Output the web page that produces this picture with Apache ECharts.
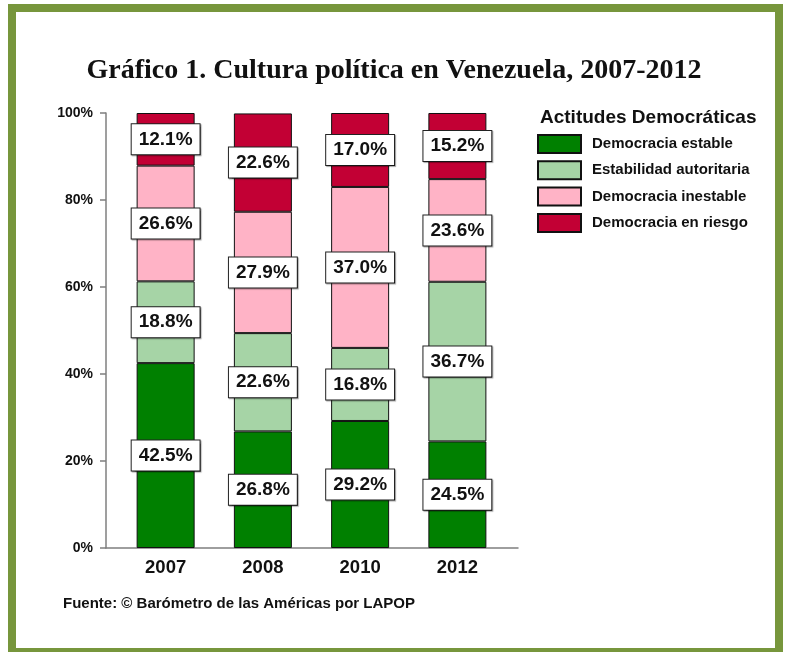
<!DOCTYPE html>
<html>
<head>
<meta charset="utf-8">
<script src="https://cdn.jsdelivr.net/npm/echarts@6/dist/echarts.min.js"></script>
<style>html,body{margin:0;padding:0;background:#fff;}#c{width:787px;height:652px;}</style>
</head>
<body>
<div id="c"></div>
<script>
const years = ['2007', '2008', '2010', '2012'];
const seriesNames = ['Democracia estable', 'Estabilidad autoritaria', 'Democracia inestable', 'Democracia en riesgo'];
const estable = [42.5, 26.8, 29.2, 24.5];
const autoritaria = [18.8, 22.6, 16.8, 36.7];
const inestable = [26.6, 27.9, 37.0, 23.6];
const riesgo = [12.1, 22.6, 17.0, 15.2];
const yTicks = [0, 20, 40, 60, 80, 100];
const colors = ['#008000', '#a6d4a6', '#ffb3c6', '#c20034'];

const values = [estable, autoritaria, inestable, riesgo];
const chart = echarts.init(document.getElementById('c'), null, {renderer: 'canvas'});
const sansBold = {fontFamily: '"Liberation Sans", Arial, sans-serif', fontWeight: 'bold', color: '#111'};

const series = values.map((vals, i) => ({
  name: seriesNames[i],
  type: 'bar',
  stack: 'total',
  xAxisIndex: 1,
  yAxisIndex: 1,
  barWidth: 58,
  data: vals,
  itemStyle: {color: colors[i], borderColor: '#111', borderWidth: 1},
  label: {
    show: true,
    position: 'inside',
    formatter: p => p.value.toFixed(1) + '%',
    fontFamily: '"Liberation Sans", Arial, sans-serif',
    fontWeight: 'bold',
    fontSize: 19,
    color: '#111',
    backgroundColor: '#fff',
    borderColor: '#222',
    borderWidth: 1,
    padding: [6, 7, 5, 7],
    shadowColor: 'rgba(0,0,0,0.35)',
    shadowOffsetX: 1,
    shadowOffsetY: 1,
    shadowBlur: 1
  },
  emphasis: {disabled: true}
}));

chart.setOption({
  animation: false,
  backgroundColor: '#fff',
  grid: [
    {left: 106, top: 113, width: 412, height: 435},
    {left: 117, top: 113, width: 389, height: 435}
  ],
  xAxis: [
    {gridIndex: 0, type: 'value', min: 0, max: 1, axisLine: {show: true, onZero: false, lineStyle: {color: '#7f7f7f', width: 1.5}}, axisTick: {show: false}, axisLabel: {show: false}, splitLine: {show: false}},
    {gridIndex: 1, type: 'category', data: years, axisLine: {show: false}, axisTick: {show: false},
     axisLabel: Object.assign({fontSize: 18.5, margin: 10}, sansBold)}
  ],
  yAxis: [
    {gridIndex: 0, type: 'value', min: yTicks[0], max: yTicks[yTicks.length - 1], interval: 20,
     axisLine: {show: true, lineStyle: {color: '#7f7f7f', width: 1.5}},
     axisTick: {show: true, length: 6, lineStyle: {color: '#7f7f7f', width: 1.5}},
     axisLabel: Object.assign({fontSize: 14, margin: 13, formatter: '{value}%'}, sansBold),
     splitLine: {show: false}},
    {gridIndex: 1, type: 'value', min: 0, max: 100, show: false}
  ],
  legend: {
    orient: 'vertical',
    left: 537,
    top: 134,
    padding: 0,
    icon: 'rect',
    itemWidth: 43,
    itemHeight: 18,
    itemGap: 6.3,
    data: seriesNames,
    selectedMode: false,
    textStyle: Object.assign({fontSize: 15, lineHeight: 16, padding: [0, 0, 0, 6]}, sansBold)
  },
  graphic: [
    {type: 'rect', silent: true, shape: {x: 12, y: 8, width: 767, height: 644},
     style: {fill: 'none', stroke: '#77963c', lineWidth: 8}},
    {type: 'text', silent: true, x: 394, y: 71,
     style: {text: 'Gráfico 1. Cultura política en Venezuela, 2007-2012', align: 'center', verticalAlign: 'middle',
             font: 'bold 28px "Liberation Serif", "Times New Roman", serif', fill: '#111'}},
    {type: 'text', silent: true, x: 540, y: 118,
     style: {text: 'Actitudes Democráticas', align: 'left', verticalAlign: 'middle',
             font: 'bold 19px "Liberation Sans", Arial, sans-serif', fill: '#111'}},
    {type: 'text', silent: true, x: 63, y: 604,
     style: {text: 'Fuente: © Barómetro de las Américas por LAPOP', align: 'left', verticalAlign: 'middle',
             font: 'bold 15px "Liberation Sans", Arial, sans-serif', fill: '#111'}}
  ],
  series: series
});
</script>
</body>
</html>
